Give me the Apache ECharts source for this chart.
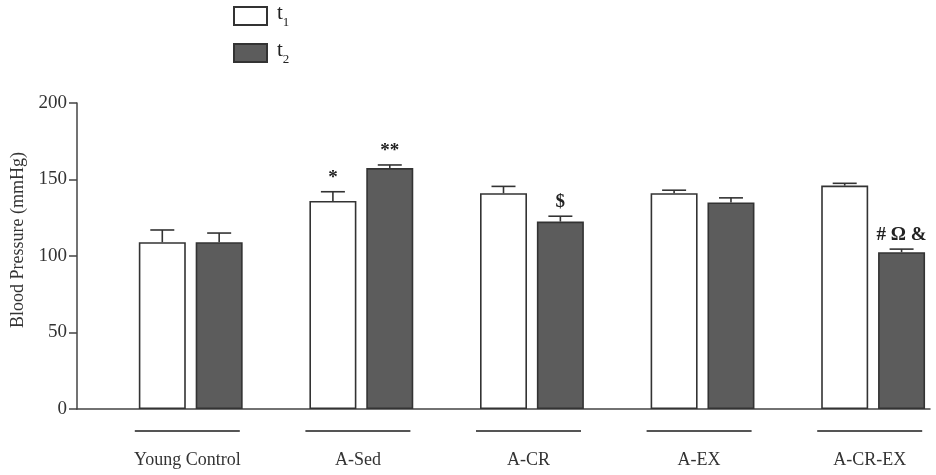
<!DOCTYPE html>
<html>
<head>
<meta charset="utf-8">
<script src="https://cdn.jsdelivr.net/npm/echarts@6/dist/echarts.min.js"></script>
<style>
  html, body { margin: 0; padding: 0; background: #fff; }
  #chart { width: 936px; height: 475px; }
</style>
</head>
<body>
<div id="chart"></div>
<script>
const groups = ['Young Control', 'A-Sed', 'A-CR', 'A-EX', 'A-CR-EX'];
const t1Mean = [109, 136, 141, 141, 146];
const t1Sem = [8, 6, 4.5, 2, 1.5];
const t2Mean = [109, 157.5, 122.5, 135, 102.5];
const t2Sem = [6, 2, 3.5, 3, 2];
const t1Marks = ['', '*', '', '', ''];
const t2Marks = ['', '**', '$', '', '# Ω &'];

const FONT = '"Liberation Serif", "Times New Roman", serif';
const INK = '#333';
const BAR_W = 47;
const BAR_GAP = 0.21;
// t1 sits on the band centre (an empty spacer column goes first), t2 one step right
const STEP = BAR_W * (1 + BAR_GAP);

const chart = echarts.init(document.getElementById('chart'));

function errorSeries(means, sems, marks, shift) {
  return {
    type: 'custom',
    name: 'err',
    z: 3,
    silent: true,
    data: means.map((m, i) => [i, m, m + sems[i], marks[i]]),
    encode: { x: 0, y: [1, 2] },
    renderItem(params, api) {
      const i = api.value(0);
      const base = api.coord([i, api.value(1)]);
      const top = api.coord([i, api.value(2)]);
      const x = base[0] + shift;
      const stroke = { stroke: INK, lineWidth: 1.6 };
      return {
        type: 'group',
        children: [
          { type: 'line', shape: { x1: x, y1: base[1], x2: x, y2: top[1] }, style: stroke },
          { type: 'line', shape: { x1: x - 12, y1: top[1], x2: x + 12, y2: top[1] }, style: stroke },
          {
            type: 'text',
            style: {
              text: marks[i],
              x: x,
              y: top[1] - 14,
              align: 'center',
              verticalAlign: 'middle',
              fontFamily: FONT,
              fontSize: 19,
              fontWeight: 'bold',
              fill: '#222'
            }
          }
        ]
      };
    }
  };
}

chart.setOption({
  animation: false,
  grid: { left: 77, right: 6, top: 103, bottom: 66, containLabel: false },
  legend: {
    data: ['t1', 't2'],
    orient: 'vertical',
    left: 228,
    top: -2,
    icon: 'rect',
    itemWidth: 33,
    itemHeight: 18,
    itemGap: 11,
    formatter: (name) => '{t|t}{s|' + name.slice(1) + '}',
    textStyle: {
      rich: {
        t: { fontFamily: FONT, fontSize: 21, color: '#222', lineHeight: 26, verticalAlign: 'top', padding: [0, 0, 0, 5] },
        s: { fontFamily: FONT, fontSize: 13, color: '#222', lineHeight: 13, verticalAlign: 'bottom' }
      }
    }
  },
  xAxis: {
    type: 'category',
    data: groups,
    axisLine: { lineStyle: { color: '#444', width: 1.5 } },
    axisTick: { show: false },
    axisLabel: {
      interval: 0,
      margin: 21,
      padding: [0, 0, 0, 50],
      formatter: (v) => '{ln|}\n{tx|' + v + '}',
      rich: {
        ln: { width: 105, height: 2, backgroundColor: '#555' },
        tx: { fontFamily: FONT, fontSize: 18, color: INK, lineHeight: 56 }
      }
    }
  },
  yAxis: {
    type: 'value',
    min: 0,
    max: 200,
    interval: 50,
    name: 'Blood Pressure (mmHg)',
    nameLocation: 'middle',
    nameGap: 48,
    nameRotate: 90,
    nameTextStyle: { fontFamily: FONT, fontSize: 18, color: INK, padding: [0, 0, 0, 32] },
    axisLine: { show: true, lineStyle: { color: '#444', width: 1.5 } },
    axisTick: { show: true, length: 8, lineStyle: { color: '#444', width: 1.5 } },
    axisLabel: { fontFamily: FONT, fontSize: 19, color: INK, margin: 10 },
    splitLine: { show: false }
  },
  series: [
    {
      name: 'spacer',
      type: 'bar',
      data: groups.map(() => '-'),
      barWidth: BAR_W,
      barGap: BAR_GAP * 100 + '%',
      silent: true,
      itemStyle: { color: 'transparent' }
    },
    {
      name: 't1',
      type: 'bar',
      data: t1Mean,
      barWidth: BAR_W,
      barGap: BAR_GAP * 100 + '%',
      itemStyle: { color: '#ffffff', borderColor: INK, borderWidth: 1.6 }
    },
    {
      name: 't2',
      type: 'bar',
      data: t2Mean,
      barWidth: BAR_W,
      barGap: BAR_GAP * 100 + '%',
      itemStyle: { color: '#5c5c5c', borderColor: INK, borderWidth: 1.6 }
    },
    errorSeries(t1Mean, t1Sem, t1Marks, 0),
    errorSeries(t2Mean, t2Sem, t2Marks, STEP)
  ]
});

window.addEventListener('resize', () => chart.resize());
</script>
</body>
</html>
